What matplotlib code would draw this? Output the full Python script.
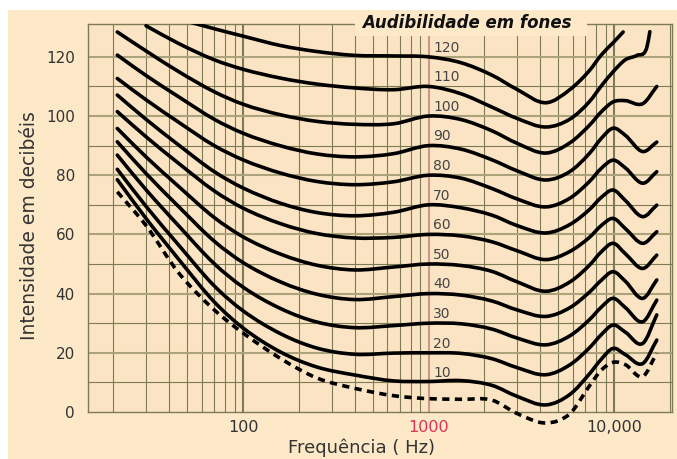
import matplotlib
matplotlib.use("Agg")
import matplotlib.pyplot as plt
import numpy as np
from matplotlib.patches import Rectangle, PathPatch
from matplotlib.path import Path

# ---------------- data ----------------
FREQ = [21, 30, 45, 70, 100, 160, 250, 400, 650, 1000, 1500, 2200, 3000,
        4300, 5800, 7400, 8500, 9900, 11500, 14300, 17000]

P10 = [78.5, 65.4, 51.6, 37.2, 28.4, 20.2, 15.2, 12.5, 10.5, 10.3, 10.6, 9.0, 5.3,
       2.4, 6.0, 13.0, 17.7, 21.5, 19.4, 16.4, 24.3]
P20 = [82.0, 69.5, 56.4, 42.6, 34.2, 26.4, 21.6, 19.5, 19.9, 20.0, 19.8, 18.0, 15.0,
       12.6, 16.0, 21.8, 26.0, 29.4, 27.0, 23.2, 32.8]
P30 = [86.8, 75.1, 62.9, 50.1, 42.2, 34.9, 30.4, 28.5, 29.2, 30.0, 29.8, 28.0, 25.0,
       22.7, 25.8, 31.3, 35.3, 38.4, 35.3, 30.5, 37.8]
P40 = [91.3, 80.6, 69.4, 57.7, 50.5, 43.9, 39.8, 38.0, 39.0, 40.0, 39.5, 37.5, 34.5,
       32.3, 35.3, 40.6, 44.4, 47.4, 44.2, 38.4, 44.6]
P50 = [95.8, 86.2, 76.2, 65.7, 59.2, 53.3, 49.6, 48.0, 49.0, 50.0, 49.5, 47.5, 44.0,
       40.8, 44.0, 49.7, 54.0, 57.0, 53.5, 48.5, 53.0]
P60 = [101.5, 93.0, 84.0, 74.7, 68.9, 63.6, 60.3, 58.8, 59.0, 60.0, 59.5, 57.5, 54.5,
       51.5, 54.3, 59.1, 62.9, 65.4, 62.0, 57.0, 60.9]
P70 = [107.1, 98.9, 90.2, 81.2, 75.7, 70.5, 67.4, 66.3, 67.5, 70.0, 69.0, 66.5, 63.0,
       60.5, 63.4, 68.5, 72.4, 75.0, 71.5, 66.0, 69.9]
P80 = [112.7, 105.5, 97.9, 90.0, 85.2, 80.7, 77.9, 76.8, 77.8, 80.0, 79.0, 75.5, 72.0,
       69.3, 72.3, 78.0, 82.2, 85.1, 82.5, 77.3, 81.2]
P90 = [120.6, 113.7, 106.5, 98.9, 94.2, 89.9, 87.2, 86.2, 87.3, 90.0, 88.8, 85.2, 81.5,
       78.4, 81.3, 87.5, 92.3, 95.9, 93.5, 88.0, 91.2]
P100 = [128.4, 122.0, 115.0, 108.2, 104.0, 100.4, 98.2, 97.2, 97.4, 100.0, 98.8, 95.0, 90.8,
        87.5, 91.0, 97.0, 101.3, 104.8, 105.2, 104.2, 110.0]
THRESHOLD = [74.4, 63.0, 47.0, 34.5, 26.7, 18.0, 11.5, 8.0, 5.5, 4.5, 4.3, 4.0, -0.5,
             -3.7, -0.5, 9.0, 14.0, 16.8, 16.0, 12.0, 19.9]

F110 = [30, 45, 70, 100, 160, 250, 400, 650, 1000, 1500, 2200, 3000, 4300,
        5800, 7400, 8500, 9900, 11500, 13300, 15000, 15600]
P110 = [130.5, 124.5, 119.0, 115.8, 112.8, 110.8, 109.5, 108.9, 110.0, 107.5, 103.0, 99.2, 96.3,
        99.0, 105.0, 110.0, 115.0, 119.0, 120.5, 123.0, 128.5]

F120 = [50, 70, 100, 160, 250, 400, 650, 1000, 1500, 2200, 3000, 4300,
        5800, 7400, 8500, 9900, 11200]
P120 = [132.0, 129.5, 127.0, 123.8, 121.8, 120.5, 120.3, 120.0, 118.0, 113.8, 109.0, 104.5,
        109.0, 115.5, 120.5, 124.8, 128.4]

CURVE_LEVELS = [120, 110, 100, 90, 80, 70, 60, 50, 40, 30, 20, 10]
Y_TICKS = [0, 20, 40, 60, 80, 100, 120]
X_TICKS = [100, 1000, 10000]
X_TICK_LABELS = ["100", "1000", "10,000"]


def smooth_path(fx, vals):
    """Bezier path through the data points (tangents in log-frequency space)."""
    x = np.log10(np.asarray(fx, dtype=float))
    y = np.asarray(vals, dtype=float)
    sec = np.diff(y) / np.diff(x)
    m = np.empty_like(y)
    m[0], m[-1] = sec[0], sec[-1]
    m[1:-1] = (sec[:-1] + sec[1:]) / 2.0
    verts = [(x[0], y[0])]
    codes = [Path.MOVETO]
    for i in range(len(x) - 1):
        h = x[i + 1] - x[i]
        verts += [(x[i] + h / 3, y[i] + m[i] * h / 3),
                  (x[i + 1] - h / 3, y[i + 1] - m[i + 1] * h / 3),
                  (x[i + 1], y[i + 1])]
        codes += [Path.CURVE4] * 3
    v = np.array(verts)
    v[:, 0] = 10 ** v[:, 0]
    return Path(v, codes)


# ---------------- figure ----------------
W, H = 677, 459
fig = plt.figure(figsize=(W / 100, H / 100), dpi=100)
fig.patch.set_facecolor("white")
PEACH = "#fde8c8"
fig.add_artist(Rectangle((8 / W, 0), 1, (H - 10) / H, transform=fig.transFigure,
                         facecolor=PEACH, edgecolor="none", zorder=-10))

ax = fig.add_axes([88 / W, 47 / H, 584 / W, 388 / H])
ax.set_facecolor("#fbe4c3")
ax.set_xscale("log")
ax.set_xlim(14.6, 20540)
ax.set_ylim(0, 131.1)

GRID = "#7d7b55"
for dec in [10, 100, 1000, 10000]:
    for m in range(1, 10):
        f = dec * m
        if 15 < f < 20500:
            if m == 1:
                col = "#c79a8c" if dec == 1000 else GRID
                ax.axvline(f, color=col, lw=1.5, zorder=1)
            else:
                ax.axvline(f, color=GRID, lw=0.8, zorder=1)
for v in range(10, 130, 10):
    if v % 20 == 0:
        ax.axhline(v, color="#aaa37c", lw=1.5, zorder=1)
    else:
        ax.axhline(v, color=GRID, lw=0.8, zorder=1)

for s in ax.spines.values():
    s.set_color(GRID)
    s.set_linewidth(1.0)

ax.set_yticks(Y_TICKS)
ax.set_yticklabels([str(v) for v in Y_TICKS], fontsize=11, color="#333333")
ax.set_xticks(X_TICKS)
ax.set_xticklabels(X_TICK_LABELS, fontsize=11.5, color="#333333")
ax.xaxis.set_minor_locator(matplotlib.ticker.NullLocator())
ax.tick_params(axis="y", length=0, pad=9.5)
ax.tick_params(axis="x", length=0, pad=6)
ax.get_xticklabels()[1].set_color("#dd3355")

# curves
LW = 2.6
curve_sets = [(F120, P120), (F110, P110), (FREQ, P100), (FREQ, P90), (FREQ, P80),
              (FREQ, P70), (FREQ, P60), (FREQ, P50), (FREQ, P40), (FREQ, P30),
              (FREQ, P20), (FREQ, P10)]
for fx, vals in curve_sets:
    ax.add_patch(PathPatch(smooth_path(fx, vals), facecolor="none", edgecolor="black",
                           lw=LW, capstyle="round", joinstyle="round", zorder=3))
ax.add_patch(PathPatch(smooth_path(FREQ, THRESHOLD), facecolor="none", edgecolor="black",
                       lw=LW, linestyle=(0, (2.0, 1.5)), capstyle="butt",
                       zorder=3, clip_on=False))

# curve labels
for lvl in CURVE_LEVELS:
    ax.text(1060, lvl + 3.1, str(lvl), fontsize=10, color="#444444",
            ha="left", va="center", zorder=4)

# title box
fig.add_artist(Rectangle((355 / W, 1 - 36 / H), 232 / W, 24 / H, transform=fig.transFigure,
                         facecolor=PEACH, edgecolor="none", zorder=5))
fig.text(466.5 / W, 1 - 23 / H, "Audibilidade em fones", fontsize=12,
         fontweight="bold", fontstyle="italic", ha="center", va="center",
         color="#111111", zorder=6)

# axis labels
fig.text(30 / W, 1 - 226 / H, "Intensidade em decibéis", rotation=90,
         ha="center", va="center", fontsize=13.5, color="#333333")
fig.text(362 / W, 1 - 453 / H, "Frequência ( Hz)", ha="center", va="baseline",
         fontsize=13, color="#333333")

fig.savefig("out.png", dpi=100, facecolor=fig.get_facecolor())
